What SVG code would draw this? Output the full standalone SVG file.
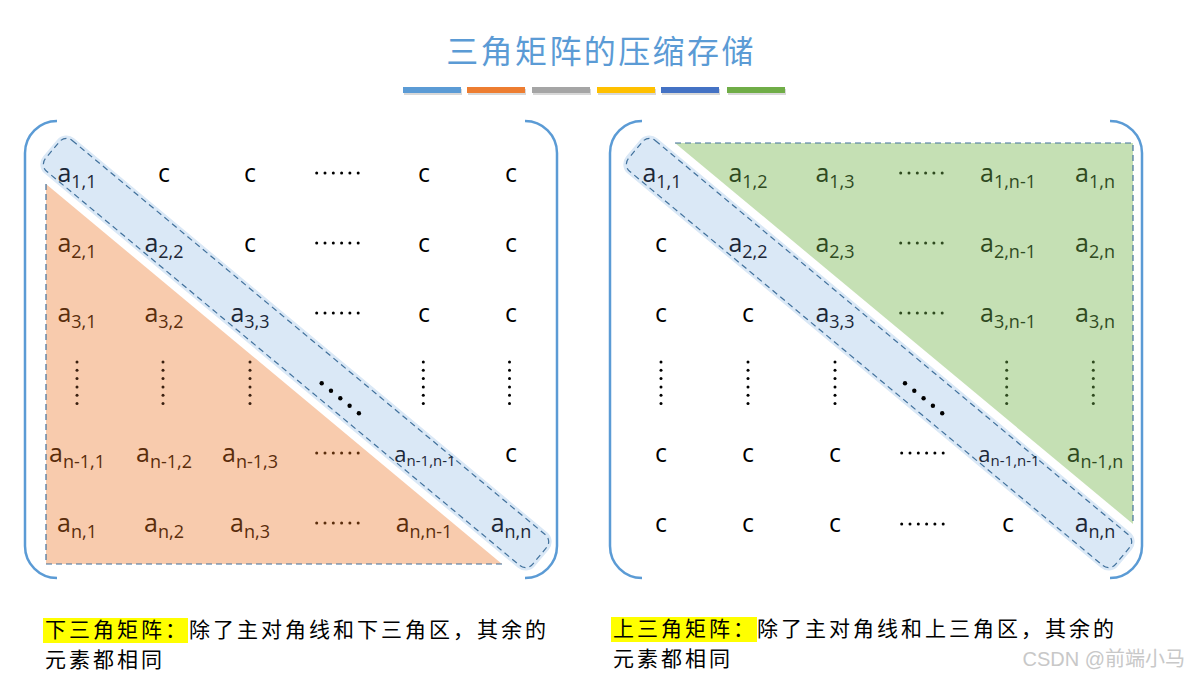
<svg xmlns="http://www.w3.org/2000/svg" width="1191" height="676" viewBox="0 0 1191 676">
<style>
.m{font-family:"Open Sans","Noto Sans",sans-serif;font-size:25px;text-anchor:middle}
.s{font-size:18px}
.sm{font-size:22px}
.sm .s{font-size:15px}
.k{fill:#000}
.b{fill:#1c2738}
.o{fill:#5a2d0c}
.g{fill:#2f4a1f}
.br{fill:none;stroke:#5b9bd5;stroke-width:2.5}
.band{fill:#dae8f6}
.dash{fill:none;stroke:#41719c;stroke-width:1.2;stroke-dasharray:6 4}
.cap{font-family:"Noto Sans CJK SC",sans-serif;font-size:21px;letter-spacing:3px;fill:#000}
</style>
<defs>
<g id="hd"><circle cx="0" cy="0" r="1.5"/><circle cx="8.3" cy="0" r="1.5"/><circle cx="16.6" cy="0" r="1.5"/><circle cx="24.9" cy="0" r="1.5"/><circle cx="33.2" cy="0" r="1.5"/><circle cx="41.5" cy="0" r="1.5"/></g>
<g id="vd"><circle cx="0" cy="0" r="1.5"/><circle cx="0" cy="8.3" r="1.5"/><circle cx="0" cy="16.6" r="1.5"/><circle cx="0" cy="24.9" r="1.5"/><circle cx="0" cy="33.2" r="1.5"/><circle cx="0" cy="41.5" r="1.5"/></g>
<g id="dd"><circle cx="0" cy="0" r="2.2"/><circle cx="9.3" cy="7.5" r="2.2"/><circle cx="18.6" cy="15" r="2.2"/><circle cx="27.9" cy="22.5" r="2.2"/><circle cx="37.2" cy="30" r="2.2"/></g>
</defs>
<rect width="1191" height="676" fill="#fff"/>

<g id="title">
<text x="601" y="63" font-family="Noto Sans CJK SC,sans-serif" font-size="32" letter-spacing="2.4" fill="#5b9bd5" text-anchor="middle">三角矩阵的压缩存储</text>
<g fill="#bfbfbf" opacity="0.6">
<rect x="404" y="89" width="58" height="6"/><rect x="468" y="89" width="58" height="6"/><rect x="533" y="89" width="58" height="6"/><rect x="598" y="89" width="58" height="6"/><rect x="662" y="89" width="58" height="6"/><rect x="728" y="89" width="58" height="6"/>
</g>
<rect x="403" y="87" width="58" height="6" fill="#5b9bd5"/>
<rect x="467" y="87" width="58" height="6" fill="#ed7d31"/>
<rect x="532" y="87" width="58" height="6" fill="#a5a5a5"/>
<rect x="597" y="87" width="58" height="6" fill="#ffc000"/>
<rect x="661" y="87" width="58" height="6" fill="#4472c4"/>
<rect x="727" y="87" width="58" height="6" fill="#70ad47"/>
</g>

<g id="lower-matrix">
<path class="br" d="M57,121 A32,32 0 0 0 25,153 L25,546 A32,32 0 0 0 57,578"/>
<path class="br" d="M525,121 A32,32 0 0 1 557,153 L557,546 A32,32 0 0 1 525,578"/>
<polygon points="46,184 46,564 502,564" fill="#f8cbad"/>
<path class="dash" d="M46,184 L46,564 L502,564"/>
<g transform="translate(296,353) rotate(39.8)">
<rect class="band" x="-320" y="-23" width="640" height="46" rx="12"/>
<rect class="dash" x="-317" y="-20" width="634" height="40" rx="9"/>
</g>
<g class="m">
<text x="77" y="182" class="b">a<tspan class="s" dy="6">1,1</tspan></text>
<text x="164" y="182" class="k">c</text>
<text x="250" y="182" class="k">c</text>
<text x="424" y="182" class="k">c</text>
<text x="511" y="182" class="k">c</text>
<text x="77" y="252" class="o">a<tspan class="s" dy="6">2,1</tspan></text>
<text x="164" y="252" class="b">a<tspan class="s" dy="6">2,2</tspan></text>
<text x="250" y="252" class="k">c</text>
<text x="424" y="252" class="k">c</text>
<text x="511" y="252" class="k">c</text>
<text x="77" y="322" class="o">a<tspan class="s" dy="6">3,1</tspan></text>
<text x="164" y="322" class="o">a<tspan class="s" dy="6">3,2</tspan></text>
<text x="250" y="322" class="b">a<tspan class="s" dy="6">3,3</tspan></text>
<text x="424" y="322" class="k">c</text>
<text x="511" y="322" class="k">c</text>
<text x="77" y="462" class="o">a<tspan class="s" dy="6">n-1,1</tspan></text>
<text x="164" y="462" class="o">a<tspan class="s" dy="6">n-1,2</tspan></text>
<text x="250" y="462" class="o">a<tspan class="s" dy="6">n-1,3</tspan></text>
<text x="425" y="462" class="b sm">a<tspan class="s" dy="4">n-1,n-1</tspan></text>
<text x="511" y="462" class="k">c</text>
<text x="77" y="532" class="o">a<tspan class="s" dy="6">n,1</tspan></text>
<text x="164" y="532" class="o">a<tspan class="s" dy="6">n,2</tspan></text>
<text x="250" y="532" class="o">a<tspan class="s" dy="6">n,3</tspan></text>
<text x="424" y="532" class="o">a<tspan class="s" dy="6">n,n-1</tspan></text>
<text x="511" y="532" class="b">a<tspan class="s" dy="6">n,n</tspan></text>
</g>
<use href="#hd" x="316.7" y="173" fill="#000"/>
<use href="#hd" x="316.7" y="243" fill="#000"/>
<use href="#hd" x="316.7" y="313" fill="#000"/>
<use href="#hd" x="316.7" y="453" fill="#5a2d0c"/>
<use href="#hd" x="316.7" y="523" fill="#5a2d0c"/>
<use href="#vd" x="77" y="362" fill="#3a2010"/>
<use href="#vd" x="163" y="362" fill="#3a2010"/>
<use href="#vd" x="250" y="362" fill="#3a2010"/>
<use href="#vd" x="423.3" y="362" fill="#000"/>
<use href="#vd" x="509.5" y="362" fill="#000"/>
<use href="#dd" x="321.7" y="383.3" fill="#000"/>
</g>

<g id="upper-matrix">
<path class="br" d="M642,121 A32,32 0 0 0 610,153 L610,546 A32,32 0 0 0 642,578"/>
<path class="br" d="M1110,121 A32,32 0 0 1 1142,153 L1142,546 A32,32 0 0 1 1110,578"/>
<polygon points="675,143 1133,143 1133,524" fill="#c5e0b4"/>
<path class="dash" d="M675,143 L1133,143 L1133,524"/>
<g transform="translate(879,353) rotate(39.8)">
<rect class="band" x="-320" y="-23" width="640" height="46" rx="12"/>
<rect class="dash" x="-317" y="-20" width="634" height="40" rx="9"/>
</g>
<g class="m">
<text x="662" y="182" class="b">a<tspan class="s" dy="6">1,1</tspan></text>
<text x="748" y="182" class="g">a<tspan class="s" dy="6">1,2</tspan></text>
<text x="835" y="182" class="g">a<tspan class="s" dy="6">1,3</tspan></text>
<text x="1008" y="182" class="g">a<tspan class="s" dy="6">1,n-1</tspan></text>
<text x="1095" y="182" class="g">a<tspan class="s" dy="6">1,n</tspan></text>
<text x="661" y="252" class="k">c</text>
<text x="748" y="252" class="b">a<tspan class="s" dy="6">2,2</tspan></text>
<text x="835" y="252" class="g">a<tspan class="s" dy="6">2,3</tspan></text>
<text x="1008" y="252" class="g">a<tspan class="s" dy="6">2,n-1</tspan></text>
<text x="1095" y="252" class="g">a<tspan class="s" dy="6">2,n</tspan></text>
<text x="661" y="322" class="k">c</text>
<text x="748" y="322" class="k">c</text>
<text x="835" y="322" class="b">a<tspan class="s" dy="6">3,3</tspan></text>
<text x="1008" y="322" class="g">a<tspan class="s" dy="6">3,n-1</tspan></text>
<text x="1095" y="322" class="g">a<tspan class="s" dy="6">3,n</tspan></text>
<text x="661" y="462" class="k">c</text>
<text x="748" y="462" class="k">c</text>
<text x="835" y="462" class="k">c</text>
<text x="1009" y="462" class="b sm">a<tspan class="s" dy="4">n-1,n-1</tspan></text>
<text x="1095" y="462" class="g">a<tspan class="s" dy="6">n-1,n</tspan></text>
<text x="661" y="532" class="k">c</text>
<text x="748" y="532" class="k">c</text>
<text x="835" y="532" class="k">c</text>
<text x="1008" y="532" class="k">c</text>
<text x="1095" y="532" class="b">a<tspan class="s" dy="6">n,n</tspan></text>
</g>
<use href="#hd" x="900.7" y="173" fill="#2f4a1f"/>
<use href="#hd" x="900.7" y="243" fill="#2f4a1f"/>
<use href="#hd" x="900.7" y="313" fill="#2f4a1f"/>
<use href="#hd" x="901.7" y="453" fill="#000"/>
<use href="#hd" x="901.7" y="524" fill="#000"/>
<use href="#vd" x="661" y="362" fill="#000"/>
<use href="#vd" x="748" y="362" fill="#000"/>
<use href="#vd" x="835" y="362" fill="#000"/>
<use href="#vd" x="1006.7" y="362" fill="#2f4a1f"/>
<use href="#vd" x="1093.3" y="362" fill="#2f4a1f"/>
<use href="#dd" x="905" y="383.3" fill="#000"/>
</g>

<g id="caption-lower">
<rect x="43" y="618" width="145" height="25" fill="#ffff00"/>
<text class="cap" x="45" y="637">下三角矩阵：除了主对角线和下三角区，其余的</text>
<text class="cap" x="45" y="667">元素都相同</text>
</g>
<g id="caption-upper">
<rect x="611" y="617" width="146" height="25" fill="#ffff00"/>
<text class="cap" x="613" y="636">上三角矩阵：除了主对角线和上三角区，其余的</text>
<text class="cap" x="613" y="666">元素都相同</text>
</g>
<text x="1185" y="666" font-family="Liberation Sans,Noto Sans CJK SC,sans-serif" font-size="20" fill="#c8c8c8" text-anchor="end">CSDN @前端小马</text>
</svg>
